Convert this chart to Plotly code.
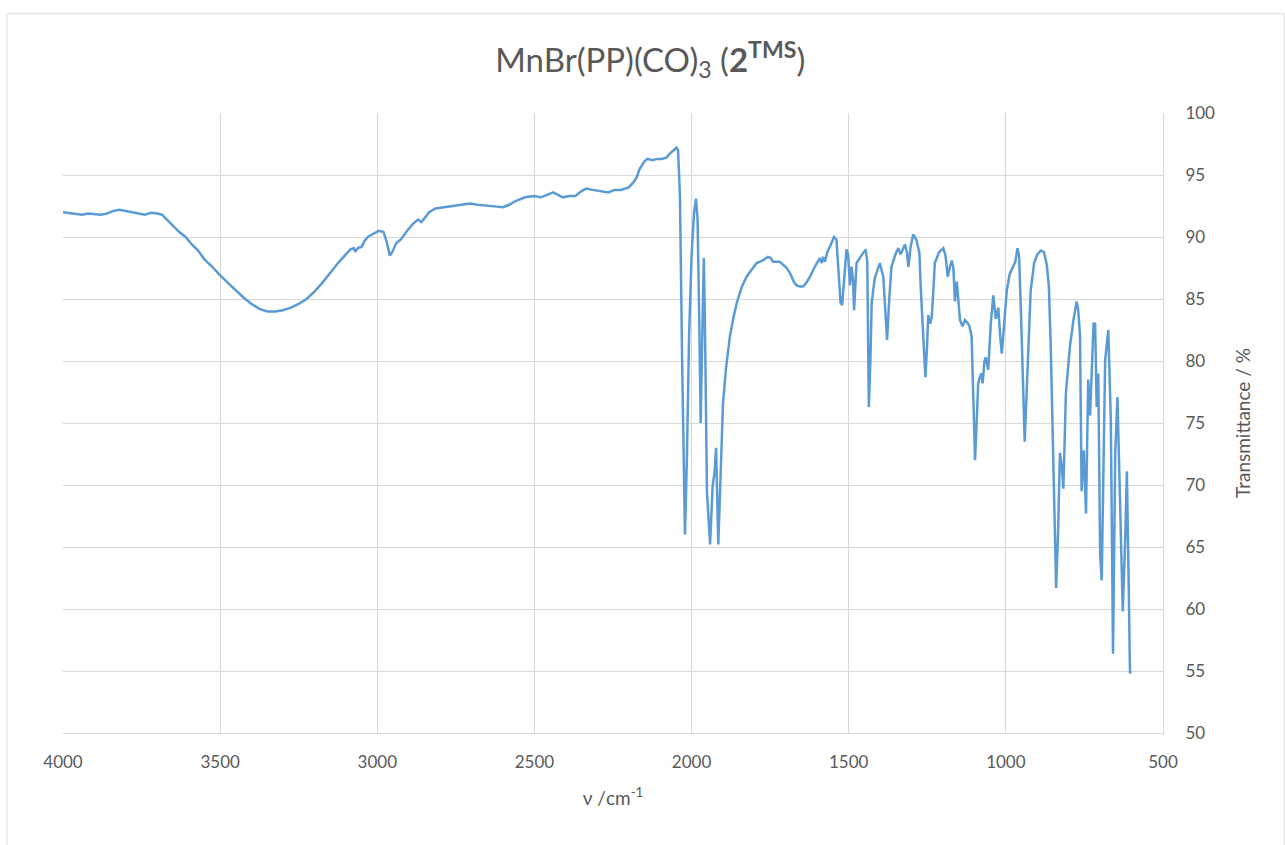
import plotly.graph_objects as go

wavenumber = [
    4000, 3970, 3940, 3920, 3900, 3880, 3860, 3840, 3820, 3800, 3780, 3760, 3740, 3720, 3700,
    3685, 3670, 3650, 3630, 3610, 3590, 3570, 3550, 3525, 3500, 3475, 3450, 3425, 3400, 3375,
    3350, 3325, 3300, 3275, 3250, 3225, 3200, 3175, 3150, 3125, 3100, 3085, 3075, 3070, 3062,
    3050, 3040, 3030, 3010, 2995, 2980, 2970, 2960, 2952, 2940, 2925, 2905, 2885, 2870, 2860,
    2850, 2835, 2815, 2790, 2760, 2730, 2705, 2680, 2650, 2620, 2600, 2580, 2560, 2530, 2500,
    2480, 2460, 2440, 2425, 2410, 2390, 2370, 2350, 2335, 2315, 2290, 2265, 2245, 2225, 2200,
    2185, 2175, 2165, 2150, 2140, 2125, 2110, 2095, 2080, 2070, 2060, 2048, 2043, 2037, 2030,
    2021, 2015, 2008, 2000, 1992, 1986, 1981, 1976, 1971, 1966, 1961, 1957, 1951, 1941, 1933,
    1927, 1922, 1915, 1908, 1900, 1890, 1878, 1866, 1856, 1840, 1825, 1808, 1793, 1775, 1757,
    1748, 1741, 1730, 1719, 1697, 1685, 1675, 1666, 1655, 1645, 1635, 1623, 1610, 1600, 1592,
    1586, 1582, 1576, 1568, 1560, 1547, 1539, 1533, 1526, 1521, 1513, 1507, 1502, 1496, 1491,
    1486, 1483, 1478, 1475, 1460, 1446, 1441, 1436, 1431, 1427, 1417, 1401, 1390, 1385, 1378,
    1371, 1364, 1350, 1342, 1335, 1321, 1315, 1310, 1303, 1295, 1285, 1275, 1271, 1267, 1260,
    1256, 1251, 1247, 1241, 1236, 1230, 1226, 1212, 1199, 1192, 1185, 1178, 1172, 1167, 1162,
    1156, 1151, 1146, 1138, 1130, 1120, 1116, 1109, 1104, 1098, 1093, 1088, 1083, 1077, 1074,
    1068, 1064, 1056, 1048, 1040, 1032, 1028, 1024, 1018, 1013, 1006, 997, 988, 976, 970,
    963, 958, 952, 946, 940, 933, 926, 921, 910, 900, 889, 879, 870, 863, 857,
    852, 846, 840, 834, 828, 822, 817, 809, 796, 785, 775, 770, 764, 759, 752,
    745, 738, 732, 721, 716, 711, 706, 700, 695, 684, 674, 666, 659, 652, 645,
    636, 628, 620, 615, 609, 605, 603,
]

transmittance = [
    92.0, 91.9, 91.8, 91.9, 91.85, 91.8, 91.9, 92.1, 92.2, 92.1, 92.0, 91.9, 91.8, 91.95, 91.9,
    91.8, 91.4, 90.9, 90.4, 90.0, 89.4, 88.9, 88.2, 87.6, 86.9, 86.3, 85.7, 85.1, 84.6, 84.2,
    84.0, 84.0, 84.1, 84.3, 84.6, 85.0, 85.6, 86.3, 87.1, 87.9, 88.6, 89.0, 89.1, 88.8, 89.1,
    89.2, 89.7, 90.0, 90.3, 90.5, 90.4, 89.6, 88.5, 88.8, 89.5, 89.8, 90.5, 91.1, 91.4, 91.2,
    91.5, 92.0, 92.3, 92.4, 92.5, 92.6, 92.7, 92.6, 92.55, 92.45, 92.4, 92.6, 92.9, 93.2, 93.3,
    93.2, 93.4, 93.6, 93.4, 93.2, 93.3, 93.3, 93.7, 93.9, 93.8, 93.7, 93.6, 93.8, 93.8, 94.0,
    94.4, 94.8, 95.5, 96.1, 96.3, 96.2, 96.3, 96.3, 96.4, 96.7, 96.9, 97.2, 97.0, 93.3, 80.0,
    66.0, 72.0, 82.0, 88.5, 92.0, 93.1, 91.5, 84.0, 75.0, 82.0, 88.3, 82.0, 69.4, 65.2, 69.9,
    71.0, 73.0, 65.2, 71.0, 76.6, 79.5, 82.0, 83.6, 84.7, 86.0, 86.8, 87.4, 87.9, 88.1, 88.4,
    88.3, 88.0, 88.0, 88.0, 87.5, 87.0, 86.4, 86.1, 86.0, 86.0, 86.3, 86.8, 87.5, 88.0, 88.3,
    87.9, 88.4, 88.0, 88.8, 89.2, 90.0, 89.8, 87.5, 84.7, 84.5, 87.2, 89.0, 88.6, 86.1, 87.6,
    86.5, 84.1, 86.8, 87.9, 88.5, 89.0, 88.0, 76.3, 80.0, 84.7, 86.7, 87.9, 86.8, 84.9, 81.7,
    85.0, 87.6, 88.7, 89.1, 88.6, 89.4, 88.8, 87.6, 89.2, 90.2, 89.8, 88.7, 86.0, 83.8, 80.1,
    78.7, 81.0, 83.7, 83.0, 83.5, 86.0, 87.9, 88.8, 89.1, 88.5, 86.8, 87.6, 88.1, 87.5, 84.8,
    86.4, 85.0, 83.3, 82.8, 83.3, 83.0, 82.8, 82.0, 78.0, 72.0, 75.0, 78.2, 78.7, 79.0, 78.2,
    80.0, 80.3, 79.3, 83.0, 85.3, 83.4, 84.0, 84.3, 82.0, 80.6, 82.8, 85.7, 87.0, 87.6, 88.0,
    89.1, 88.5, 84.0, 78.0, 73.5, 78.0, 83.0, 85.7, 87.9, 88.6, 88.9, 88.8, 87.8, 86.0, 81.0,
    75.2, 67.0, 61.7, 66.0, 72.6, 71.5, 69.7, 77.4, 81.2, 83.3, 84.8, 84.2, 82.0, 69.5, 72.8,
    67.7, 78.5, 75.6, 83.0, 83.0, 76.3, 79.0, 64.5, 62.3, 80.1, 82.5, 75.2, 56.4, 72.6, 77.1,
    68.5, 59.8, 65.8, 71.1, 61.8, 54.8, 55.0,
]

x_ticks = [4000, 3500, 3000, 2500, 2000, 1500, 1000, 500]
y_ticks = [50, 55, 60, 65, 70, 75, 80, 85, 90, 95, 100]

FONT = "Lato"
GREY = "#595959"

fig = go.Figure()
fig.add_trace(go.Scatter(
    x=wavenumber, y=transmittance, mode="lines",
    line=dict(color="#5b9bd5", width=2.5),
    showlegend=False, hoverinfo="x+y",
))

fig.update_layout(
    width=1285, height=845,
    margin=dict(l=63, r=122, t=113, b=112),
    paper_bgcolor="white", plot_bgcolor="white",
    font=dict(family=FONT, color=GREY, size=16),
    title=dict(
        text="MnBr(PP)(CO)<sub>3</sub> (<b>2<sup>TMS</sup></b>)",
        x=0.506, xanchor="center", y=0.929, yanchor="middle",
        font=dict(family=FONT, size=33, color=GREY),
    ),
    xaxis=dict(
        range=[4000, 500], tickmode="array", tickvals=x_ticks,
        ticktext=[str(v) for v in x_ticks],
        showgrid=True, gridcolor="#d9d9d9", gridwidth=1,
        zeroline=False, showline=True, linecolor="#d9d9d9", linewidth=1,
        ticks="", ticklabelstandoff=14,
        tickfont=dict(size=17, color=GREY),
        title=dict(text="ν /cm<sup>-1</sup>", standoff=20,
                   font=dict(size=19, color=GREY)),
    ),
    yaxis=dict(
        range=[50, 100], side="right", tickmode="array", tickvals=y_ticks,
        ticktext=[str(v) for v in y_ticks],
        showgrid=True, gridcolor="#d9d9d9", gridwidth=1,
        zeroline=False, showline=True, linecolor="#d9d9d9", linewidth=1,
        ticks="", ticklabelstandoff=18,
        tickfont=dict(size=17, color=GREY),
        title=dict(text="Transmittance / %", standoff=22,
                   font=dict(size=19, color=GREY)),
    ),
    shapes=[dict(
        type="rect", xref="paper", yref="paper",
        x0=-0.051, x1=1.11, y0=-0.3, y1=1.16,
        line=dict(color="#d9d9d9", width=1), fillcolor="rgba(0,0,0,0)",
        layer="below",
    )],
)

fig.write_html("out.html")
